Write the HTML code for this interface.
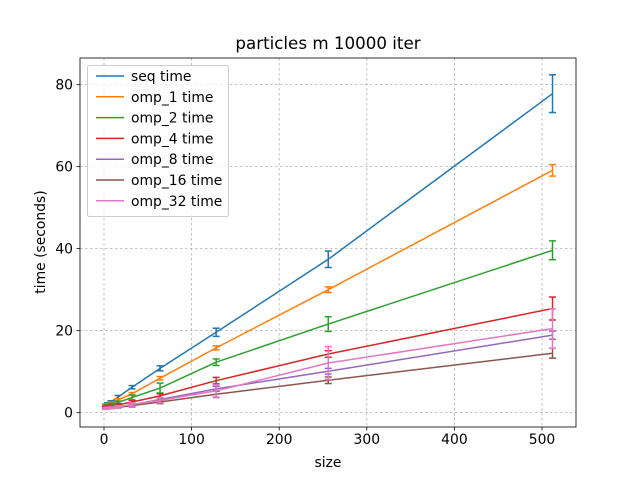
<!DOCTYPE html>
<html><head><meta charset="utf-8"><style>
body{margin:0;background:#fff}
svg{font-family:"DejaVu Sans","Liberation Sans",sans-serif}
</style></head><body>
<svg id="chart" width="640" height="480" xmlns="http://www.w3.org/2000/svg"></svg>
<script>
const sizes=[2,4,8,16,32,64,128,256,512];
const seriesNames=["seq time","omp_1 time","omp_2 time","omp_4 time","omp_8 time","omp_16 time","omp_32 time"];
const seqTime=[1.8,2.1,2.6,3.8,6.2,10.8,19.6,37.4,77.8];
const omp1Time=[1.7,1.9,2.3,3.1,4.6,8.4,15.8,30.0,59.1];
const omp2Time=[1.5,1.7,2.0,2.5,3.7,6.0,12.3,21.6,39.6];
const omp4Time=[1.3,1.4,1.6,1.9,2.6,4.1,7.8,14.3,25.4];
const omp8Time=[1.1,1.2,1.3,1.5,1.9,3.2,5.8,10.1,18.9];
const omp16Time=[1.0,1.1,1.2,1.3,1.7,2.6,4.5,7.9,14.5];
const omp32Time=[1.0,1.1,1.2,1.4,2.0,3.0,5.3,12.1,20.5];
const seqErr=[0.3,0.3,0.3,0.4,0.4,0.6,1.0,2.0,4.6];
const omp1Err=[0.2,0.2,0.3,0.3,0.3,0.4,0.5,0.7,1.4];
const omp2Err=[0.2,0.2,0.3,0.3,0.6,1.2,0.8,1.8,2.3];
const omp4Err=[0.2,0.2,0.2,0.3,0.4,0.5,0.8,0.8,2.8];
const omp8Err=[0.1,0.1,0.2,0.2,0.3,0.4,0.6,0.7,1.0];
const omp16Err=[0.1,0.1,0.2,0.2,0.3,0.4,0.8,0.8,1.2];
const omp32Err=[0.2,0.2,0.2,0.3,0.4,0.6,1.5,4.0,4.8];
const xTicks=[0,100,200,300,400,500];
const yTicks=[0,20,40,60,80];
const series=[seqTime,omp1Time,omp2Time,omp4Time,omp8Time,omp16Time,omp32Time];
const errs=[seqErr,omp1Err,omp2Err,omp4Err,omp8Err,omp16Err,omp32Err];
const colors=["#1f77b4","#ff7f0e","#2ca02c","#d62728","#9467bd","#8c564b","#e377c2"];
const L=80,R=576,T=58,B=427;
const xmin=-27.4,xmax=538.8,ymin=-3.5,ymax=86.5;
const X=v=>L+(v-xmin)/(xmax-xmin)*(R-L);
const Y=v=>B-(v-ymin)/(ymax-ymin)*(B-T);
const svg=document.getElementById('chart');
const NS="http://www.w3.org/2000/svg";
function mk(tag,attrs,parent){const e=document.createElementNS(NS,tag);for(const k in attrs)e.setAttribute(k,attrs[k]);(parent||svg).appendChild(e);return e;}
const grid=mk('g',{});


xTicks.forEach(t=>{mk('line',{x1:X(t),x2:X(t),y1:T,y2:B,stroke:'#b0b0b0','stroke-width':0.8,'stroke-dasharray':'2.5,2.5'},grid);});
yTicks.forEach(t=>{mk('line',{x1:L,x2:R,y1:Y(t),y2:Y(t),stroke:'#b0b0b0','stroke-width':0.8,'stroke-dasharray':'2.5,2.5'},grid);});
series.forEach((s,i)=>{
  const g=mk('g',{});
  
  
  const pts=s.map((v,j)=>X(sizes[j])+','+Y(v)).join(' ');
  mk('polyline',{points:pts,fill:'none',stroke:colors[i],'stroke-width':1.5},g);
  s.forEach((v,j)=>{
    const x=X(sizes[j]),y1=Y(v-errs[i][j]),y2=Y(v+errs[i][j]);
    const eb=mk('g',{stroke:colors[i],'stroke-width':1.5},g);
    
    
    mk('line',{x1:x,x2:x,y1:y1,y2:y2},eb);
    mk('line',{x1:x-3.5,x2:x+3.5,y1:y1,y2:y1},eb);
    mk('line',{x1:x-3.5,x2:x+3.5,y1:y2,y2:y2},eb);
  });
});
const frame=mk('rect',{x:L,y:T,width:R-L,height:B-T,fill:'none',stroke:'#000','stroke-width':0.8});


xTicks.forEach(t=>{
  mk('line',{x1:X(t),x2:X(t),y1:B,y2:B+3.5,stroke:'#000','stroke-width':0.8});
  const tx=mk('text',{x:X(t),y:B+17,'text-anchor':'middle','font-size':'13.9px'});
  
  
  tx.textContent=t;
});
yTicks.forEach(t=>{
  mk('line',{x1:L-3.5,x2:L,y1:Y(t),y2:Y(t),stroke:'#000','stroke-width':0.8});
  const tx=mk('text',{x:L-7,y:Y(t)+5,'text-anchor':'end','font-size':'13.9px'});
  
  
  tx.textContent=t;
});
const lg=mk('g',{});


mk('rect',{x:87.5,y:65.5,width:141,height:151,rx:2,fill:'#fff','fill-opacity':0.8,stroke:'#ccc','stroke-width':1},lg);
seriesNames.forEach((n,i)=>{
  const y=76+i*20.8;
  const e=mk('g',{},lg);
  
  
  mk('line',{x1:96,x2:124,y1:y,y2:y,stroke:colors[i],'stroke-width':1.5},e);
  const t=mk('text',{x:131,y:y+5,'font-size':'13.9px'},e);
  t.textContent=n;
});
</script>
<svg style="position:absolute;left:0;top:0" width="640" height="480">
<text x="328" y="49" text-anchor="middle" font-size="16.7" font-family="DejaVu Sans, Liberation Sans, sans-serif">particles m 10000 iter</text>
<text x="328" y="467" text-anchor="middle" font-size="13.9" font-family="DejaVu Sans, Liberation Sans, sans-serif">size</text>
<text x="45" y="242" text-anchor="middle" font-size="13.9" font-family="DejaVu Sans, Liberation Sans, sans-serif" transform="rotate(-90 45 242)">time (seconds)</text>
</svg>
</body></html>
